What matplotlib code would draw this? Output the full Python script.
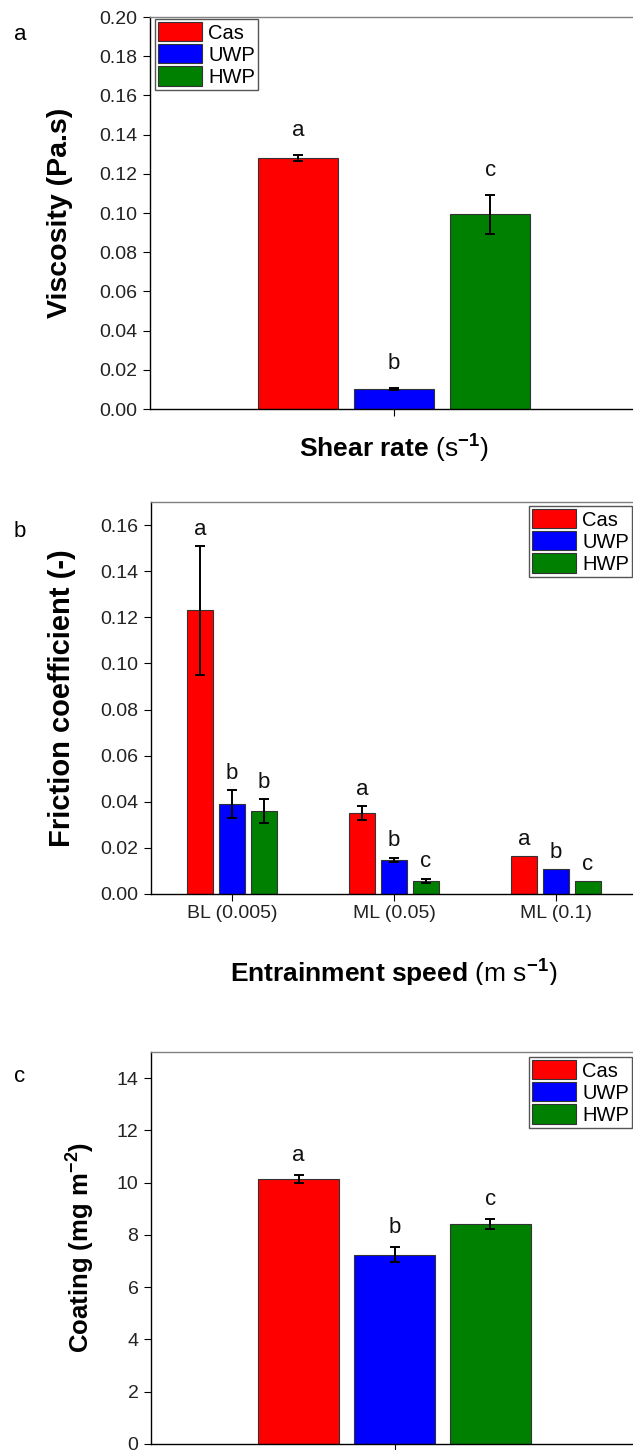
import matplotlib
matplotlib.use('Agg')
import matplotlib.pyplot as plt
from matplotlib.transforms import Bbox
import numpy as np

plt.rcParams['font.family'] = ['Liberation Sans', 'DejaVu Sans']
plt.rcParams['mathtext.fontset'] = 'custom'
plt.rcParams['mathtext.rm'] = 'Liberation Sans'
plt.rcParams['mathtext.bf'] = 'Liberation Sans:bold'
plt.rcParams['mathtext.it'] = 'Liberation Sans:italic'

# data
series = ['Cas', 'UWP', 'HWP']
colors = ['#ff0000', '#0000ff', '#008000']

# a - viscosity
visc = [0.128, 0.0102, 0.0993]
visc_err = [0.0015, 0.0004, 0.0098]
visc_sig = ['a', 'b', 'c']

# b - friction coefficient
speeds = ['BL (0.005)', 'ML (0.05)', 'ML (0.1)']
fric_cas = [0.123, 0.035, 0.0165]
fric_uwp = [0.039, 0.0148, 0.0107]
fric_hwp = [0.036, 0.0057, 0.0055]
fric_cas_err = [0.028, 0.003, 0.0]
fric_uwp_err = [0.006, 0.001, 0.0]
fric_hwp_err = [0.005, 0.001, 0.0]
fric_cas_sig = ['a', 'a', 'a']
fric_uwp_sig = ['b', 'b', 'b']
fric_hwp_sig = ['b', 'c', 'c']

# c - coating
coat = [10.15, 7.25, 8.42]
coat_err = [0.15, 0.30, 0.19]
coat_sig = ['a', 'b', 'c']

W, H = 633, 1450
fig = plt.figure(figsize=(W / 100, H / 100), dpi=100)


def px_axes(l, t, r, b):
    return fig.add_axes([l / W, 1 - b / H, (r - l) / W, (b - t) / H])


bar_w = 0.165
offs = [-0.197, 0.0, 0.197]


def style(ax):
    ax.spines['left'].set_color('black')
    ax.spines['bottom'].set_color('black')
    ax.spines['top'].set_color('#808080')
    ax.spines['right'].set_visible(False)
    for s in ['left', 'bottom', 'top']:
        ax.spines[s].set_linewidth(1.0)
    ax.tick_params(direction='out', length=5, width=0.8, labelsize=14,
                   labelcolor='#222222', pad=4)


def draw_group(ax, x, vals, errs, sigs, i, sig_off):
    x = np.asarray(x, dtype=float) + offs[i]
    ax.bar(x, vals, bar_w, color=colors[i], edgecolor='#333333',
           linewidth=0.8, label=series[i], zorder=2)
    for xi, v, e, s in zip(x, vals, errs, sigs):
        if e > 0:
            ax.errorbar(xi, v, yerr=e, fmt='none', ecolor='black',
                        elinewidth=1.4, capsize=3.5, capthick=1.4, zorder=3)
        ax.annotate(s, xy=(xi, v + e), xytext=(0, sig_off),
                    textcoords='offset points', ha='center', va='baseline',
                    fontsize=16, color='#111111')


def add_legend(ax, x, y, loc):
    leg = ax.legend(loc=loc, bbox_to_anchor=(x / W, 1 - y / H),
                    bbox_transform=fig.transFigure, fontsize=14.5,
                    handlelength=2.2, handleheight=1.1, labelspacing=0.08,
                    borderpad=0.15, handletextpad=0.3, borderaxespad=0,
                    fancybox=False, framealpha=1)
    leg.get_frame().set_edgecolor('#555555')
    leg.get_frame().set_linewidth(1.0)


# panel a
ax = px_axes(150, 17, 638, 409)
for i in range(3):
    draw_group(ax, [0], [visc[i]], [visc_err[i]], [visc_sig[i]], i, 14)
ax.set_xlim(-0.5, 0.5)
ax.set_ylim(0, 0.20)
ax.set_yticks(np.arange(0, 0.201, 0.02))
ax.set_yticklabels(['%.2f' % t for t in np.arange(0, 0.201, 0.02)])
ax.set_xticks([0])
ax.set_xticklabels([''])
style(ax)
ax.set_ylabel('Viscosity (Pa.s)', fontsize=20.5, fontweight='bold')
ax.yaxis.label.set_va('center')
ax.yaxis.set_label_coords(-0.184, 0.5)
ax.set_xlabel(r'Shear rate $\mathrm{(s}^{\mathbf{-1}}\mathrm{)}$',
              fontsize=19, fontweight='bold')
ax.xaxis.label.set_va('baseline')
ax.xaxis.set_label_coords(0.5, -0.125)
add_legend(ax, 155, 19, 'upper left')
fig.text(20 / W, 1 - 40 / H, 'a', fontsize=16, ha='center', va='baseline')

# panel b
ax = px_axes(151, 502, 637, 894)
xg = np.arange(len(speeds))
draw_group(ax, xg, fric_cas, fric_cas_err, fric_cas_sig, 0, 8)
draw_group(ax, xg, fric_uwp, fric_uwp_err, fric_uwp_sig, 1, 8)
draw_group(ax, xg, fric_hwp, fric_hwp_err, fric_hwp_sig, 2, 8)
ax.set_xlim(-0.5, 2.5)
ax.set_ylim(0, 0.17)
ax.set_yticks(np.arange(0, 0.161, 0.02))
ax.set_yticklabels(['%.2f' % t for t in np.arange(0, 0.161, 0.02)])
ax.set_xticks(xg)
ax.set_xticklabels(speeds)
style(ax)
ax.tick_params(axis='x', pad=3)
ax.set_ylabel('Friction coefficient (-)', fontsize=21, fontweight='bold')
ax.yaxis.label.set_va('center')
ax.yaxis.set_label_coords(-0.183, 0.5)
ax.set_xlabel(r'Entrainment speed $\mathrm{(m\ s}^{\mathbf{-1}}\mathrm{)}$',
              fontsize=19, fontweight='bold')
ax.xaxis.label.set_va('baseline')
ax.xaxis.set_label_coords(0.5, -0.227)
ax.xaxis.label.set_clip_box(Bbox.from_extents(0, H - 985, W, H))
ax.xaxis.label.set_clip_on(True)
add_legend(ax, 632, 506, 'upper right')
fig.text(20 / W, 1 - 537 / H, 'b', fontsize=16, ha='center', va='baseline')

# panel c
ax = px_axes(151, 1052, 638, 1444)
for i in range(3):
    draw_group(ax, [0], [coat[i]], [coat_err[i]], [coat_sig[i]], i, 10)
ax.set_xlim(-0.5, 0.5)
ax.set_ylim(0, 15)
ax.set_yticks(np.arange(0, 15, 2))
ax.set_xticks([0])
ax.set_xticklabels([''])
style(ax)
ax.set_ylabel(r'Coating (mg m$^{\mathbf{-2}}$)', fontsize=18.5, fontweight='bold')
ax.yaxis.label.set_va('center')
ax.yaxis.set_label_coords(-0.144, 0.5)
add_legend(ax, 632, 1057, 'upper right')
fig.text(20 / W, 1 - 1082 / H, 'c', fontsize=16, ha='center', va='baseline')

fig.savefig('out.png', dpi=100)
